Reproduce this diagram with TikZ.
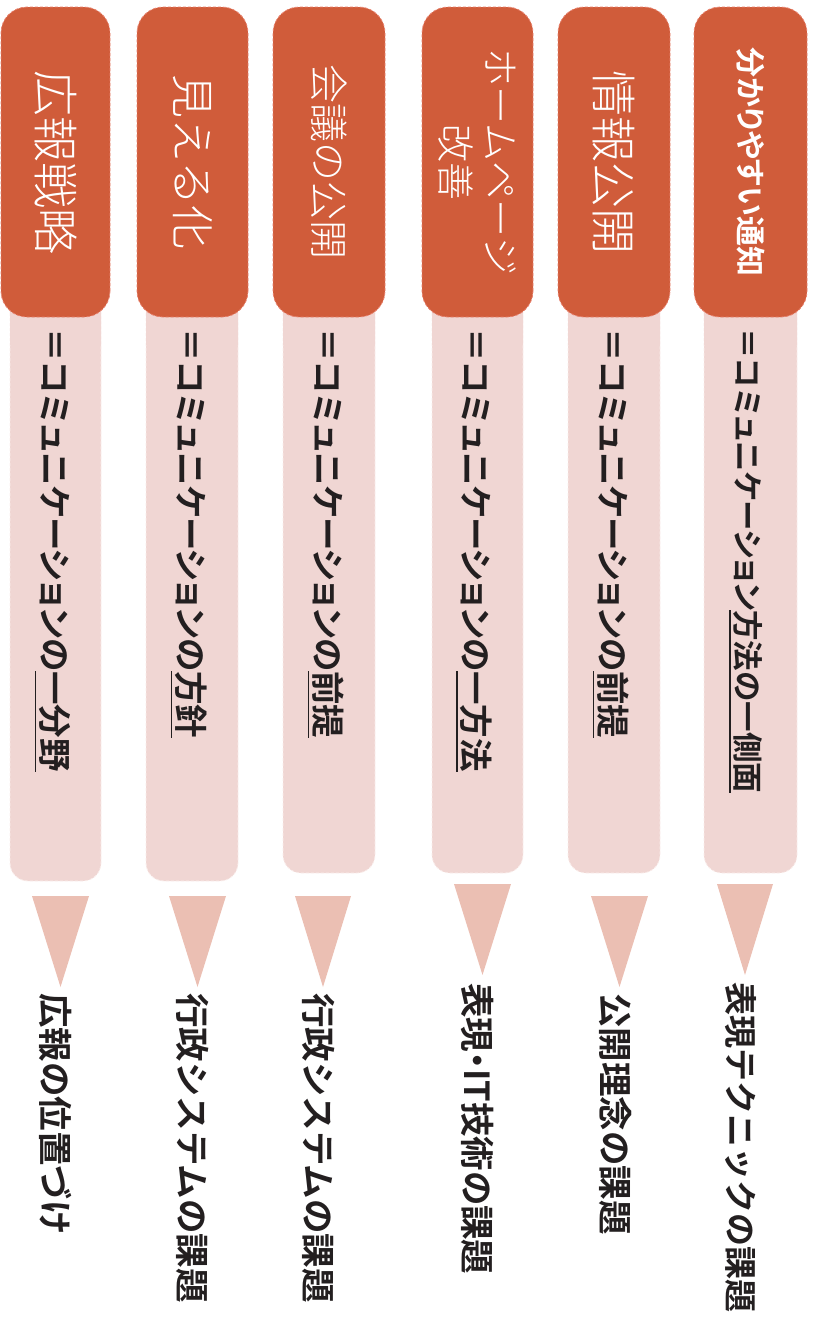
\documentclass[tikz,border=0pt]{standalone}
\usepackage{fontspec}
\newfontfamily\jpbold{Noto Sans CJK JP Bold}
\newfontfamily\jpboldp{Noto Sans CJK JP Bold}[RawFeature=+palt]
\newfontfamily\jplight{Noto Sans CJK JP Light}
\definecolor{orangec}{RGB}{208,92,58}
\definecolor{orangeb}{RGB}{232,128,108}
\definecolor{pinkc}{RGB}{240,214,211}
\definecolor{pinkb}{RGB}{250,238,236}
\definecolor{tric}{RGB}{235,191,179}
\definecolor{textc}{RGB}{35,31,32}
\newcommand\ulx[1]{\setbox0\hbox{#1}\rlap{\smash{\rule[-7.5pt]{\wd0}{1.5pt}}}\box0}
\begin{document}
\begin{tikzpicture}[x=1pt,y=-1pt,
  obox/.style={fill=orangec, draw=orangeb, densely dashed, line width=0.8pt,
    rounded corners=26pt, rotate=-90, inner sep=0pt, text=white, align=center,
    minimum width=310pt},
  ptext/.style={rotate=-90, anchor=west, inner sep=0pt, text=textc,
    font=\jpboldp\fontsize{33.5}{33.5}\selectfont},
  lbl/.style={rotate=-90, anchor=west, inner sep=0pt, text=textc,
    font=\jpbold\fontsize{34.5}{34.5}\selectfont},
  pinkbox/.style={fill=pinkc, draw=pinkb, densely dashed, line width=0.8pt, rounded corners=18pt},
  tri/.style={fill=tric}
]
\useasboundingbox (0,0) rectangle (814,1326);

% pink boxes
\foreach \a/\b/\c in {10/101/881, 146/238/881, 283/375/873, 432/523/873, 568/660/873, 704/797/873}{
  \path[pinkbox] (\a,295) rectangle (\b,\c);
  \fill[pinkc] (\a,295) rectangle (\b,345);
}

% orange header boxes
\node[obox, minimum height=109pt, font=\jplight\fontsize{46}{46}\selectfont] (o1) at (55.5,162) {広報戦略};
\node[obox, minimum height=111pt, font=\jplight\fontsize{44}{44}\selectfont] (o2) at (192.5,162) {見える化};
\node[obox, minimum height=112pt, font=\jplight\fontsize{39}{39}\selectfont] (o3) at (329,162) {会議の公開};
\node[obox, minimum height=111pt, font=\jplight\fontsize{38}{45}\selectfont] (o4) at (477.5,162) {ホームページ\\改善};
\node[obox, minimum height=112pt, font=\jplight\fontsize{46}{46}\selectfont] (o5) at (614,162) {情報公開};
\node[obox, minimum height=113pt, font=\jpboldp\fontsize{30}{30}\selectfont] (o6) at (750.5,162) {分かりやすい通知};

% pink texts
\node[ptext] (p1) at (54.5,328) {＝コミュニケーションの\ulx{一分野}};
\node[ptext] (p2) at (191,328) {＝コミュニケーションの\ulx{方針}};
\node[ptext] (p3) at (328,328) {＝コミュニケーションの\ulx{前提}};
\node[ptext] (p4) at (476.5,328) {＝コミュニケーションの\ulx{一方法}};
\node[ptext] (p5) at (613,328) {＝コミュニケーションの\ulx{前提}};
\node[ptext, font=\jpboldp\fontsize{30.5}{30.5}\selectfont] (p6) at (748.5,328) {＝コミュニケーション\ulx{方法の一側面}};

% triangles
\fill[tri] (32,896) -- (89,896) -- (60.5,987) -- cycle;
\fill[tri] (169,896) -- (226,896) -- (197.5,987) -- cycle;
\fill[tri] (295,896) -- (351,896) -- (323,987) -- cycle;
\fill[tri] (454,884) -- (511,884) -- (482.5,975) -- cycle;
\fill[tri] (591,896) -- (648,896) -- (619.5,987) -- cycle;
\fill[tri] (717,884) -- (773,884) -- (745,975) -- cycle;

% bottom labels
\node[lbl] (l1) at (56,993) {広報の位置づけ};
\node[lbl] (l2) at (193,993) {行政システムの課題};
\node[lbl] (l3) at (319,993) {行政システムの課題};
\node[lbl, font=\jpboldp\fontsize{34.5}{34.5}\selectfont] (l4) at (478,983) {表現・IT技術の課題};
\node[lbl] (l5) at (615,993) {公開理念の課題};
\node[lbl, font=\jpbold\fontsize{33}{33}\selectfont] (l6) at (741,982) {表現テクニックの課題};
\end{tikzpicture}
\end{document}
